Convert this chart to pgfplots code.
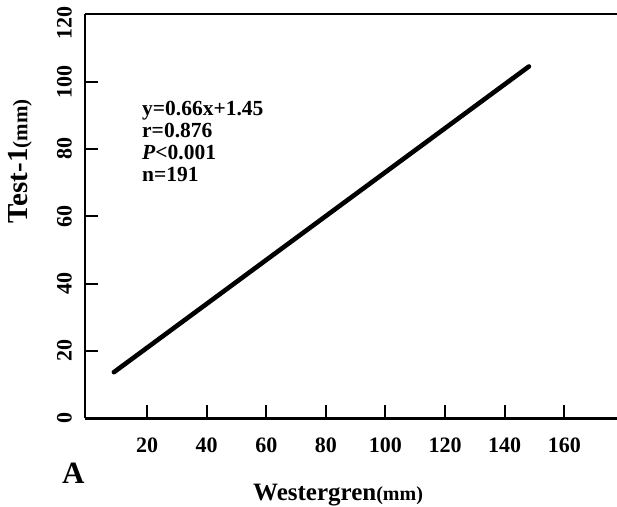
\documentclass[border=0pt]{standalone}
\usepackage{fontspec}
\setmainfont{Liberation Serif}
\usepackage{pgfplots}
\pgfplotsset{compat=1.18}
\begin{document}
\begin{tikzpicture}
\begin{axis}[
  at={(0,0)}, anchor=south west,
  scale only axis,
  width=532pt, height=404pt,
  xmin=-0.8, xmax=177.66,
  ymin=0, ymax=120,
  axis x line=box, axis y line*=left,
  axis line style={line width=2.4pt, black},
  xtick={20,40,...,160},
  ytick={0,20,...,100},
  extra y ticks={120},
  extra y tick style={yticklabel style={xshift=-9pt}},
  xtick pos=left, ytick pos=left,
  tick align=inside,
  major tick length=13pt,
  tick style={line width=2pt, black},
  /pgf/number format/assume math mode=true,
  ticklabel style={font=\fontsize{22}{22}\selectfont\bfseries, inner sep=0pt},
  xticklabel style={anchor=north},
  xticklabel shift=19pt,
  yticklabel style={rotate=90, anchor=south},
  yticklabel shift=13pt,
  clip=false,
]
\addplot[black, line width=4.6pt, line cap=round] coordinates {(8.9,13.7) (148.1,104.5)};
\end{axis}
\node[rotate=90, anchor=center, inner sep=0pt] at (-65pt,257pt) {\fontsize{29}{29}\selectfont\bfseries Test-1\fontsize{21}{21}\selectfont(mm)};
\node[anchor=base west, inner sep=0pt] at (168pt,-82pt) {\fontsize{25}{25}\selectfont\bfseries Westergren\fontsize{20}{20}\selectfont(mm)};
\node[anchor=base west, inner sep=0pt] at (-23pt,-64.7pt) {\fontsize{31}{31}\selectfont\bfseries A};
\begin{scope}[every node/.style={anchor=base west, inner sep=0pt, font=\fontsize{21.5}{21.5}\selectfont\bfseries}]
\node at (57pt,302.3pt) {y=0.66x+1.45};
\node at (57pt,280.3pt) {r=0.876};
\node at (57pt,258.3pt) {\textit{P}<0.001};
\node at (57pt,236.3pt) {n=191};
\end{scope}
\pgfresetboundingbox
\path (-85pt,-87.7pt) rectangle (532pt,418.3pt);
\end{tikzpicture}
\end{document}
